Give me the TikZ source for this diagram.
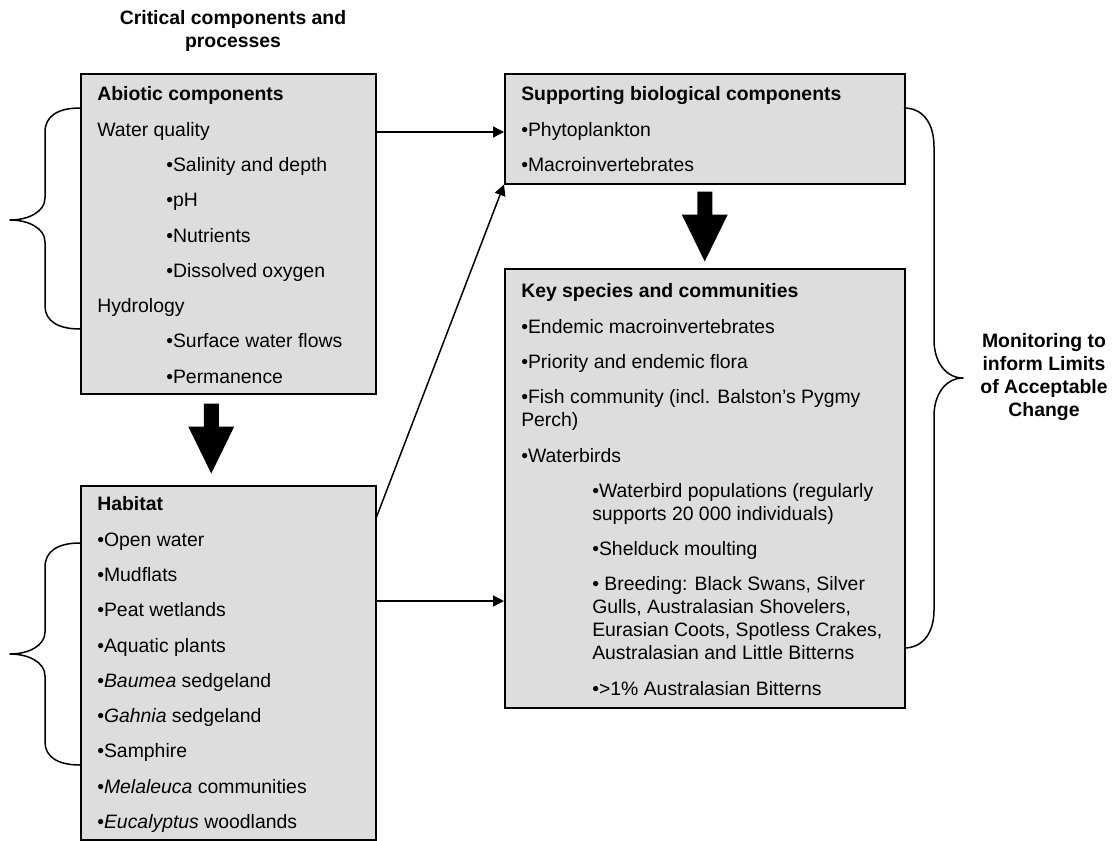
\documentclass[tikz,border=0pt]{standalone}
\usepackage{fontspec}
\setmainfont{Liberation Sans}
\usetikzlibrary{arrows.meta,calc}
\definecolor{panelgrey}{RGB}{221,221,221}
\newlength\itemgap
\setlength\itemgap{12.3bp}
% broad black arrow pointing down, #1 = middle of its top edge
\newcommand\fatdown[1]{\fill #1 ++(-7.5,0) -- ++(15,0) -- ++(0,23) -- ++(15.5,0) -- ++(-23,47) -- ++(-23,-47) -- ++(15.5,0) -- cycle;}
\tikzset{
  panel/.style={draw=black, line width=1.5bp, fill=panelgrey, anchor=north west,
    inner xsep=16.5bp, inner ysep=0pt},
  flow/.style={-{Triangle[length=11bp,width=11bp]}, line width=1.5bp},
  curly/.style={line width=1.5bp, line join=round},
  heading/.style={font=\fontsize{19.4bp}{23bp}\selectfont\bfseries, align=center}
}
\begin{document}
\begin{tikzpicture}[x=1bp,y=-1bp,font=\fontsize{19.4bp}{23bp}\selectfont]
  \useasboundingbox (0,0) rectangle (1112,841);
  % Heading
  \node[heading] (crit) at (233,31) {Critical components and\\processes};
  % Node: Abiotic components
  \node[panel] (abio) at (80,73) {\parbox[t][320bp][t]{262bp}{\vspace*{13bp}%
    \textbf{Abiotic components}\\[\itemgap]
    Water quality\\[\itemgap]
    \hspace*{69bp}•Salinity and depth\\[\itemgap]
    \hspace*{69bp}•pH\\[\itemgap]
    \hspace*{69bp}•Nutrients\\[\itemgap]
    \hspace*{69bp}•Dissolved oxygen\\[\itemgap]
    Hydrology\\[\itemgap]
    \hspace*{69bp}•Surface water flows\\[\itemgap]
    \hspace*{69bp}•Permanence}};
  % Node: Habitat
  \node[panel] (habit) at (80,485) {\parbox[t][354bp][t]{262bp}{\vspace*{11bp}%
    \textbf{Habitat}\\[\itemgap]
    •Open water\\[\itemgap]
    •Mudflats\\[\itemgap]
    •Peat wetlands\\[\itemgap]
    •Aquatic plants\\[\itemgap]
    •\textit{Baumea} sedgeland\\[\itemgap]
    •\textit{Gahnia} sedgeland\\[\itemgap]
    •Samphire\\[\itemgap]
    •\textit{Melaleuca} communities\\[\itemgap]
    •\textit{Eucalyptus} woodlands}};
  % Node: Supporting biological components
  \node[panel] (supp) at (504,73) {\parbox[t][110bp][t]{367bp}{\vspace*{13bp}%
    \textbf{Supporting biological components}\\[\itemgap]
    •Phytoplankton\\[\itemgap]
    •Macroinvertebrates}};
  % Node: Key species and communities
  \node[panel] (keysp) at (504,268) {\parbox[t][439bp][t]{367bp}{\vspace*{15bp}%
    \textbf{Key species and communities}\\[\itemgap]
    •Endemic macroinvertebrates\\[\itemgap]
    •Priority and endemic flora\\[\itemgap]
    •Fish community (incl. Balston’s Pygmy\\
    Perch)\\[\itemgap]
    •Waterbirds\\[\itemgap]
    \hspace*{71bp}•Waterbird populations (regularly\\
    \hspace*{71bp}supports 20 000 individuals)\\[\itemgap]
    \hspace*{71bp}•Shelduck moulting\\[\itemgap]
    \hspace*{71bp}• Breeding: Black Swans, Silver\\
    \hspace*{71bp}Gulls, Australasian Shovelers,\\
    \hspace*{71bp}Eurasian Coots, Spotless Crakes,\\
    \hspace*{71bp}Australasian and Little Bitterns\\[\itemgap]
    \hspace*{71bp}•>1\% Australasian Bitterns}};
  % Node: Monitoring label
  \node[heading] (monlabel) at (1044,377) {Monitoring to\\inform Limits\\of Acceptable\\Change};
  % Edges
  \draw[flow] ([yshift=-59bp]abio.north east) coordinate (a1) -- (a1 -| supp.west);
  \draw[flow] ([yshift=-32bp]habit.north east) -- (supp.south west);
  \draw[flow] ([yshift=-116bp]habit.north east) coordinate (h1) -- (h1 -| keysp.west);
  \fatdown{([xshift=-17bp,yshift=-9bp]abio.south)}
  \fatdown{([yshift=-7bp]supp.south)}
  % Braces
  \draw[curly] (80,108) .. controls (58,108) and (45,116) .. (45,132) -- (45,198)
    .. controls (45,212) and (28,220) .. (10,220) .. controls (28,220) and (45,228) .. (45,242)
    -- (45,306) .. controls (45,321) and (58,329) .. (80,329);
  \draw[curly] (80,543) .. controls (58,543) and (45,551) .. (45,567) -- (45,632)
    .. controls (45,646) and (28,654) .. (10,654) .. controls (28,654) and (45,662) .. (45,676)
    -- (45,742) .. controls (45,757) and (58,765) .. (80,765);
  \draw[curly] (904,108) .. controls (922,108) and (934,122) .. (934,147) -- (934,340)
    .. controls (934,362) and (946,378) .. (963,378) .. controls (946,378) and (934,394) .. (934,416)
    -- (934,610) .. controls (934,634) and (922,648) .. (904,648);
\end{tikzpicture}
\end{document}
